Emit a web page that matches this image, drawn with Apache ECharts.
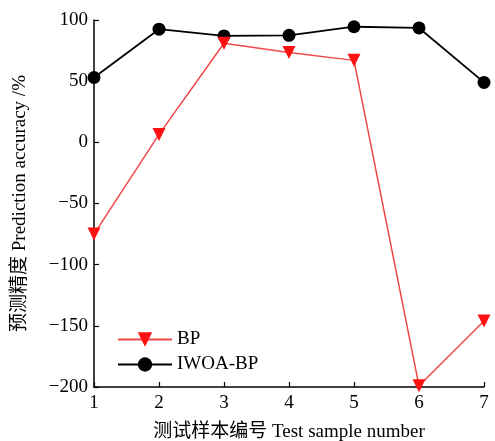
<!DOCTYPE html>
<html>
<head>
<meta charset="utf-8">
<script src="https://cdn.jsdelivr.net/npm/echarts@6/dist/echarts.min.js"></script>
<style>
  html, body { margin: 0; padding: 0; background: #fff; }
  #chart { width: 495px; height: 441px; }
</style>
</head>
<body>
<div id="chart"></div>
<script>
// Test samples and prediction accuracy (%) of the two models
const samples = [1, 2, 3, 4, 5, 6, 7];
const bpAccuracy = [-75, 6.5, 81, 73.5, 67, -199, -146];
const iwoaBpAccuracy = [53, 92.5, 87, 87.5, 94.5, 93.5, 49];
const yTicks = [-200, -150, -100, -50, 0, 50, 100];

const FONT = '"Liberation Serif", "Times New Roman", "Noto Sans CJK SC", serif';

const chart = echarts.init(document.getElementById('chart'), null, { renderer: 'canvas' });

chart.setOption({
  animation: false,
  backgroundColor: '#fff',
  textStyle: { fontFamily: FONT },
  grid: { left: 94, right: 11, top: 20, bottom: 54, outerBoundsMode: 'none', containLabel: false },
  legend: {
    left: 112,
    top: 325,
    orient: 'vertical',
    itemWidth: 54,
    itemHeight: 18,
    itemGap: 6,
    textStyle: { fontFamily: FONT, fontSize: 19, color: '#000' },
    data: ['BP', 'IWOA-BP']
  },
  xAxis: {
    type: 'value',
    min: 1,
    max: 7,
    interval: 1,
    name: '测试样本编号 Test sample number',
    nameLocation: 'middle',
    nameGap: 36,
    nameTextStyle: { fontFamily: FONT, fontSize: 19, color: '#000' },
    axisLine: { show: true, onZero: false, lineStyle: { color: '#000', width: 1.5 } },
    axisTick: { show: true, inside: true, length: 5, lineStyle: { color: '#000', width: 1.2 } },
    axisLabel: { fontFamily: FONT, fontSize: 19, color: '#000', margin: 7 },
    splitLine: { show: false }
  },
  yAxis: {
    type: 'value',
    min: -200,
    max: 100,
    interval: 50,
    name: '预测精度 Prediction accuracy /%',
    nameLocation: 'middle',
    nameGap: 64,
    nameTextStyle: { fontFamily: FONT, fontSize: 19, color: '#000' },
    axisLine: { show: true, onZero: false, lineStyle: { color: '#000', width: 1.5 } },
    axisTick: { show: true, inside: true, length: 5, lineStyle: { color: '#000', width: 1.2 } },
    axisLabel: {
      fontFamily: FONT, fontSize: 19, color: '#000', margin: 6,
      formatter: v => (yTicks.includes(v) ? String(v).replace('-', '\u2212') : '')
    },
    splitLine: { show: false }
  },
  series: [
    {
      name: 'BP',
      type: 'line',
      data: samples.map((s, i) => [s, bpAccuracy[i]]),
      symbol: 'triangle',
      symbolRotate: 180,
      symbolSize: 13,
      lineStyle: { color: '#f04848', width: 1.5 },
      itemStyle: { color: '#ff1010' },
      z: 3
    },
    {
      name: 'IWOA-BP',
      type: 'line',
      data: samples.map((s, i) => [s, iwoaBpAccuracy[i]]),
      symbol: 'circle',
      symbolSize: 13,
      lineStyle: { color: '#000', width: 1.8 },
      itemStyle: { color: '#000' },
      z: 2
    }
  ]
});
</script>
</body>
</html>
